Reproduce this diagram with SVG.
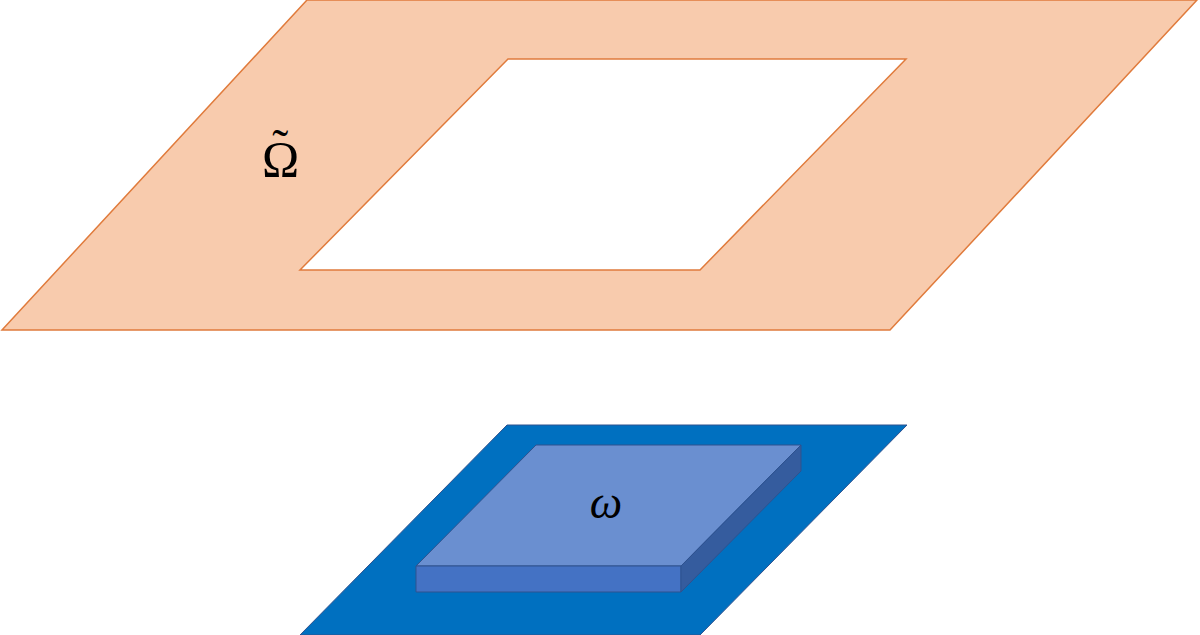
<svg xmlns="http://www.w3.org/2000/svg" width="1200" height="635" viewBox="0 0 1200 635">
<style>
.lbl{font-family:"Liberation Serif","DejaVu Serif",serif;fill:#000}
</style>
<rect width="1200" height="635" fill="#fff"/>
<g id="omega-tilde-plane">
<path d="M307,0 L1197,0 L890,330 L2,330 Z M508,59 L300,270 L700,270 L906,59 Z" fill="#F8CBAD" fill-rule="evenodd" stroke="#E07B3C" stroke-width="1.5"/>
<text class="lbl" x="262" y="176" font-size="50">Ω<tspan dx="-27" dy="-13" font-size="48">˜</tspan></text>
</g>
<g id="omega-plane">
<path d="M507,425 L907,425 L700,635 L300,635 Z" fill="#0070C0" stroke="#2F528F" stroke-width="1"/>
</g>
<g id="omega-box">
<path d="M536,445 L801,445 L681,566 L416,566 Z" fill="#6A8FD0" stroke="#2F528F" stroke-width="1"/>
<path d="M416,566 L681,566 L681,592 L416,592 Z" fill="#4472C4" stroke="#2F528F" stroke-width="1"/>
<path d="M681,566 L801,445 L801,471 L681,592 Z" fill="#355C9E" stroke="#2F528F" stroke-width="1"/>
<text class="lbl" x="606" y="518" font-size="46" font-style="italic" text-anchor="middle">ω</text>
</g>
<g id="connectors"/>
</svg>
